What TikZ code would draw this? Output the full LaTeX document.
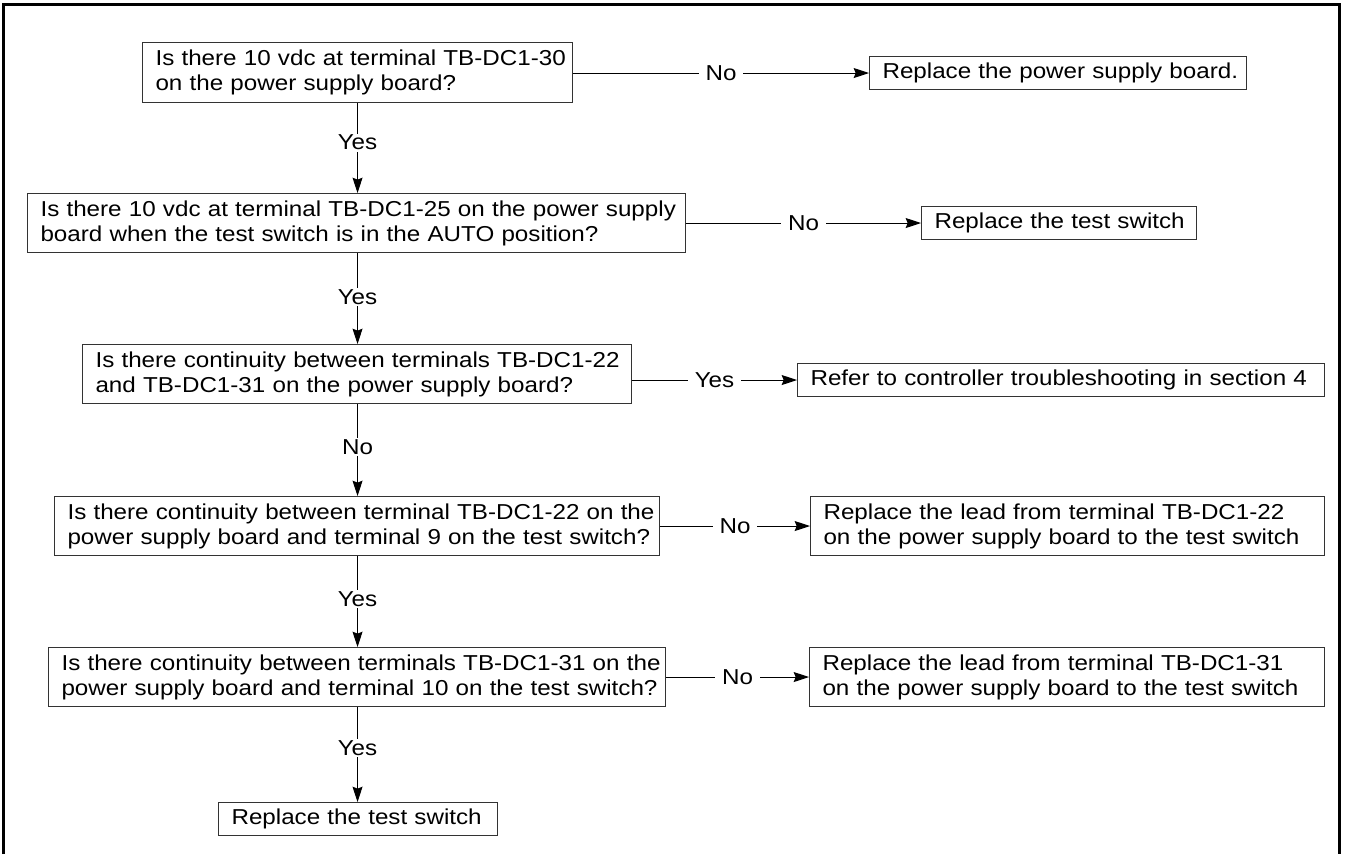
\documentclass[tikz,border=0pt]{standalone}
\usepackage{fontspec}
\setmainfont{Liberation Sans}[FakeStretch=1.12]
\usetikzlibrary{arrows.meta}
\begin{document}
\begin{tikzpicture}[x=0.75pt,y=-0.75pt,
  every node/.style={font=\fontsize{16.2pt}{18.75pt}\selectfont},
  qbox/.style={draw=black!80, line width=0.8pt, inner xsep=9.75pt, inner ysep=0pt,
    align=left, anchor=north west, minimum height=44.25pt},
  sbox/.style={qbox, minimum height=24.75pt},
  arr/.style={line width=0.75pt, -{Stealth[length=11.5pt,width=7.5pt,inset=1.5pt]}},
  lbl/.style={fill=white, inner xsep=5pt, inner ysep=1pt}]
\useasboundingbox (0,0) rectangle (1345,854);
\draw[line width=2.25pt] (3,854) -- (3,4) -- (1339,4) -- (1339,854);

\node[qbox, text width=303pt, minimum height=45pt] (b1) at (142,42)
  {\mbox{Is there 10 vdc at terminal TB-DC1-30}\\\mbox{on the power supply board?}};
\node[sbox, text width=263.25pt] (r1) at (869,56) {\mbox{Replace the power supply board.}};

\node[qbox, text width=474pt] (b2) at (27,193)
  {\mbox{Is there 10 vdc at terminal TB-DC1-25 on the power supply}\\\mbox{board when the test switch is in the AUTO position?}};
\node[sbox, text width=186.75pt] (r2) at (921,206) {\mbox{Replace the test switch}};

\node[qbox, text width=392.25pt] (b3) at (82,344)
  {\mbox{Is there continuity between terminals TB-DC1-22}\\\mbox{and TB-DC1-31 on the power supply board?}};
\node[sbox, text width=375.75pt] (r3) at (797,363) {\mbox{Refer to controller troubleshooting in section 4}};

\node[qbox, text width=434.25pt] (b4) at (54,496)
  {\mbox{Is there continuity between terminal TB-DC1-22 on the}\\\mbox{power supply board and terminal 9 on the test switch?}};
\node[qbox, text width=366pt] (r4) at (810,496)
  {\mbox{Replace the lead from terminal TB-DC1-22}\\\mbox{on the power supply board to the test switch}};

\node[qbox, text width=443.25pt] (b5) at (48,647)
  {\mbox{Is there continuity between terminals TB-DC1-31 on the}\\\mbox{power supply board and terminal 10 on the test switch?}};
\node[qbox, text width=366.75pt] (r5) at (809,647)
  {\mbox{Replace the lead from terminal TB-DC1-31}\\\mbox{on the power supply board to the test switch}};

\node[sbox, text width=189.75pt] (r6) at (218,802) {\mbox{Replace the test switch}};

\draw[arr] (b1.east |- r1.west) -- node[lbl]{No} (r1.west);
\draw[arr] (b2.east |- r2.west) -- node[lbl]{No} (r2.west);
\draw[arr] (b3.east |- r3.west) -- node[lbl]{Yes} (r3.west);
\draw[arr] (b4.east |- r4.west) -- node[lbl]{No} (r4.west);
\draw[arr] (b5.east |- r5.west) -- node[lbl]{No} (r5.west);

\draw[arr] (b1.south) -- node[lbl,pos=.44]{Yes} (b1.south |- b2.north);
\draw[arr] (b1.south |- b2.south) -- node[lbl,pos=.48]{Yes} (b1.south |- b3.north);
\draw[arr] (b1.south |- b3.south) -- node[lbl,pos=.47]{No} (b1.south |- b4.north);
\draw[arr] (b1.south |- b4.south) -- node[lbl,pos=.47]{Yes} (b1.south |- b5.north);
\draw[arr] (b1.south |- b5.south) -- node[lbl,pos=.43]{Yes} (b1.south |- r6.north);
\end{tikzpicture}
\end{document}
